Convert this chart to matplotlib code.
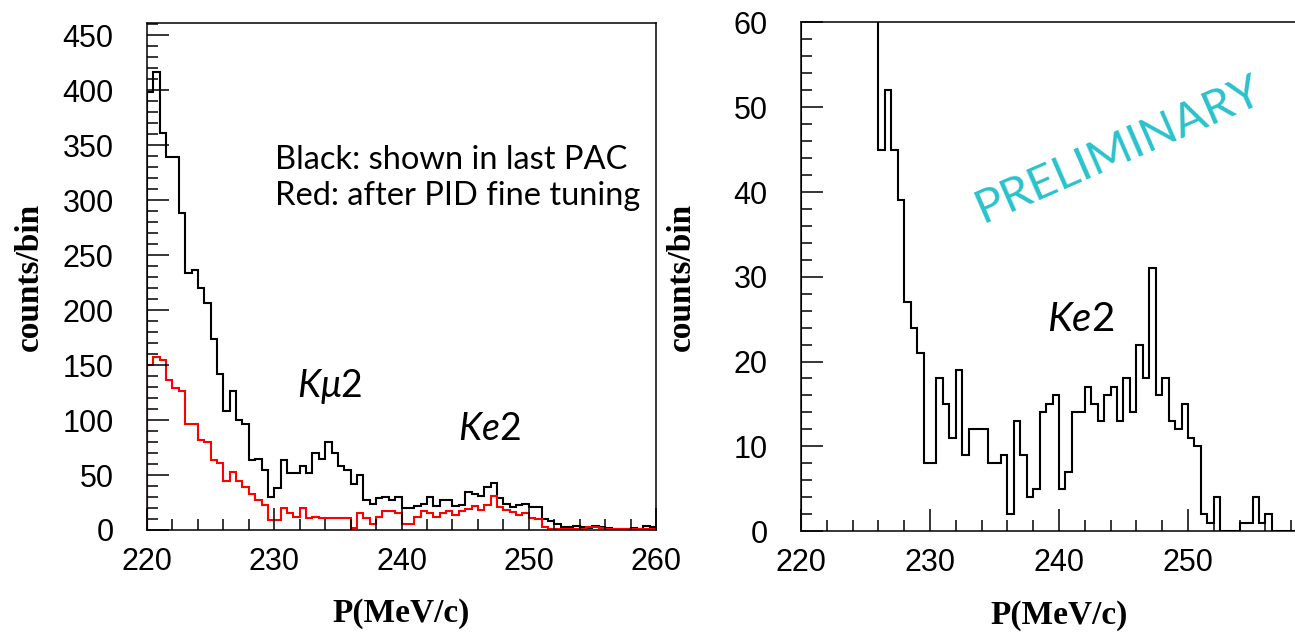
import numpy as np
import matplotlib
matplotlib.use('Agg')
import matplotlib.pyplot as plt
from matplotlib.ticker import MultipleLocator

# --- data: 0.5 MeV/c bins from 220 to 260 ---
p_edges = np.linspace(220, 260, 81)

# left panel: black = shown in last PAC, red = after PID fine tuning
black_counts = [398, 416, 361, 339, 339, 288, 234, 236, 220, 206,
                174, 142, 108, 126, 100, 96, 64, 65, 55, 30,
                38, 64, 52, 52, 58, 52, 70, 65, 80, 70,
                58, 55, 42, 50, 27, 24, 29, 30, 27, 30,
                20, 20, 22, 24, 30, 22, 27, 27, 22, 23,
                35, 33, 31, 39, 43, 29, 24, 21, 23, 24,
                21, 21, 10, 8, 5, 3, 3, 4, 3, 2,
                4, 3, 2, 1, 1, 1, 2, 1, 4, 3]
red_counts = [150, 157, 155, 136, 129, 126, 96, 96, 82, 80,
              64, 61, 45, 53, 45, 39, 33, 27, 23, 9,
              9, 20, 15, 12, 20, 11, 12, 11, 11, 11,
              11, 11, 2, 15, 11, 5, 12, 17, 17, 15,
              5, 5, 12, 17, 15, 12, 15, 17, 14, 17,
              19, 22, 18, 23, 31, 21, 18, 16, 14, 15,
              11, 10, 3, 1, 1, 1, 1, 1, 1, 3,
              3, 2, 1, 1, 1, 1, 1, 1, 1, 1]

# right panel (first bins are off scale, above 60)
right_counts = [190, 200, 170, 160, 155, 130, 110, 110, 100, 95,
                80, 70, 45, 52, 45, 39, 27, 24, 21, 8,
                8, 18, 15, 11, 19, 9, 12, 12, 12, 8,
                8, 9, 2, 13, 9, 4, 5, 14, 15, 16,
                5, 7, 14, 14, 17, 15, 13, 16, 17, 13,
                18, 14, 22, 18, 31, 16, 18, 13, 12, 15,
                11, 10, 2, 1, 4, 0, 0, 0, 1, 1,
                4, 1, 2, 0, 0, 0, 0, 0, 0, 0]

left_xticks = [220, 230, 240, 250, 260]
right_xticks = [220, 230, 240, 250]   # 260 falls outside the picture

plt.rcParams['mathtext.fontset'] = 'custom'
plt.rcParams['mathtext.it'] = 'Lato:italic'
plt.rcParams['mathtext.rm'] = 'Lato'

tick_font = {'family': 'Liberation Sans', 'size': 22}
label_font = {'family': 'Liberation Serif', 'weight': 'bold', 'size': 24}


def style_axes(ax, xticks, ymax, ymajor, yminor, ylab_x):
    ax.set_xlim(220, 260)
    ax.set_ylim(0, ymax)
    ax.set_xticks(xticks)
    ax.xaxis.set_minor_locator(MultipleLocator(2))
    ax.yaxis.set_major_locator(MultipleLocator(ymajor))
    ax.yaxis.set_minor_locator(MultipleLocator(yminor))
    ax.tick_params(which='both', direction='in', top=False, right=False, width=1.1, color='black')
    ax.tick_params(which='major', length=16)
    ax.tick_params(which='minor', length=8)
    ax.tick_params(axis='x', which='major', pad=12)
    ax.tick_params(axis='y', which='major', pad=24)
    for lab in ax.get_xticklabels() + ax.get_yticklabels():
        lab.set_fontfamily(tick_font['family'])
        lab.set_fontsize(tick_font['size'])
    for sp in ax.spines.values():
        sp.set_linewidth(1.1)
    ax.set_xlabel('P(MeV/c)', **label_font)
    ax.set_ylabel('counts/bin', **label_font)
    ax.xaxis.set_label_coords(0.5, -0.135)
    ax.yaxis.set_label_coords(ylab_x, 0.5)


fig = plt.figure(figsize=(12.95, 6.32), dpi=100)

# --- left panel ---
ax1 = fig.add_axes([0.1135, 0.1614, 0.3931, 0.8022])
ax1.stairs(black_counts, p_edges, baseline=0, color='black', lw=1.5)
ax1.stairs(red_counts, p_edges, baseline=0, color='#ff0000', lw=1.5)
style_axes(ax1, left_xticks, 461, 50, 10, -0.201)

ax1.text(0.251, 0.630, 'Black: shown in last PAC\nRed: after PID fine tuning',
         transform=ax1.transAxes, family='Lato', fontsize=23.5,
         linespacing=1.22, va='bottom', ha='left')
ax1.text(0.295, 0.262, r'$K\mu$2', transform=ax1.transAxes,
         family='Lato', fontsize=27, va='baseline')
ax1.text(0.611, 0.177, r'$Ke$2', transform=ax1.transAxes,
         family='Lato', fontsize=27, va='baseline')

# --- right panel (cut at the right edge of the picture) ---
ax2 = fig.add_axes([0.6185, 0.1598, 0.3985, 0.8046])
ax2.stairs(right_counts, p_edges, baseline=0, color='black', lw=1.5)
style_axes(ax2, right_xticks, 60, 10, 2, -0.201)

ax2.text(0.477, 0.393, r'$Ke$2', transform=ax2.transAxes,
         family='Lato', fontsize=29, va='baseline')

fig.text(1119 / 1295, 1 - 150 / 632, 'PRELIMINARY', color='#29c2cb',
         family='Lato', fontsize=34, rotation=23.5, rotation_mode='anchor',
         ha='center', va='center')

fig.savefig('out.png', dpi=100)
